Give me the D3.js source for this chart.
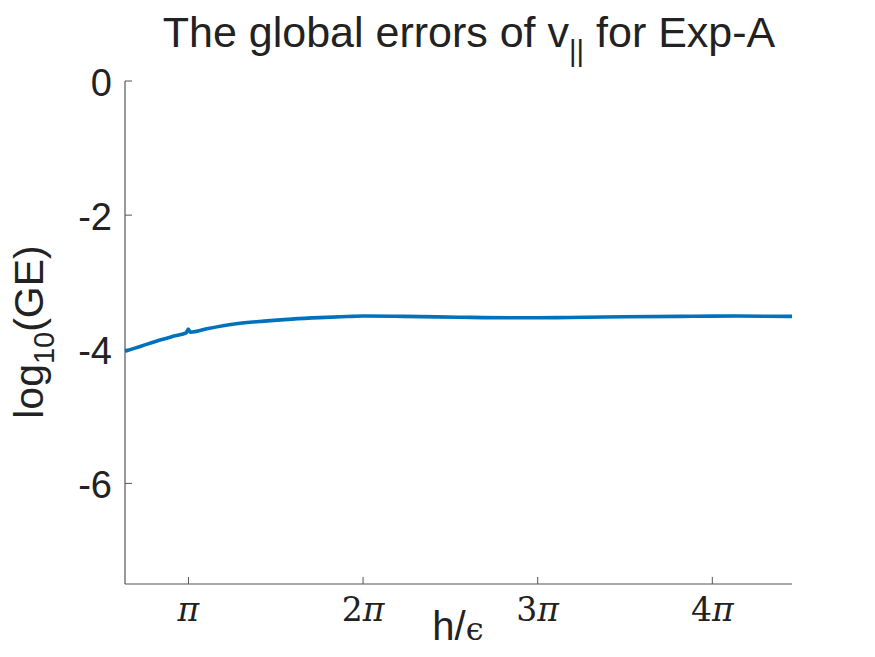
<!DOCTYPE html>
<meta charset="utf-8">
<style>
body { margin: 0; background: #fff; }
text { font-family: 'Liberation Sans', Arial, sans-serif; fill: #222; }
.tex { font-family: 'DejaVu Serif', 'Liberation Serif', serif; }
</style>
<body>
<script src="https://d3js.org/d3.v7.min.js"></script>
<script>
	// curve samples
	var xs = [2, 2.3, 2.6, 2.9, 3.1, 3.14, 3.17, 3.5, 4, 4.5, 5, 5.5, 6, 6.28, 7, 8, 9, 9.42, 10, 11, 12, 12.57, 13, 14];
	var ys = [-4.03, -3.95, -3.87, -3.80, -3.755, -3.70, -3.745, -3.69, -3.62, -3.58, -3.55, -3.528, -3.512, -3.505, -3.51, -3.522, -3.53, -3.53, -3.526, -3.516, -3.51, -3.506, -3.505, -3.51];

	var yTicks = [0, -2, -4, -6];
	var xTicks = [Math.PI, 2 * Math.PI, 3 * Math.PI, 4 * Math.PI];
	var xTickLabels = ["", "2", "3", "4"]; // coefficient before π

	var width = 875, height = 657;
	var plotLeft = 125, plotRight = 792, plotTop = 81, plotBottom = 584;
	var axisColor = "#555";

	var svg = d3.select("body").append("svg")
		.attr("width", width)
		.attr("height", height);

	var x = d3.scaleLinear().domain([2, 14]).range([plotLeft, plotRight]);
	var y = d3.scaleLinear().domain([-7.5, 0]).range([plotBottom, plotTop]);

	// axes lines
	svg.append("line").attr("x1", plotLeft).attr("x2", plotLeft).attr("y1", plotTop).attr("y2", plotBottom)
		.style("stroke", axisColor).style("stroke-width", 1.2);
	svg.append("line").attr("x1", plotLeft).attr("x2", plotRight).attr("y1", plotBottom).attr("y2", plotBottom)
		.style("stroke", axisColor).style("stroke-width", 1.2);

	// y ticks
	for (var i = 0; i < yTicks.length; i++) {
		svg.append("line")
			.attr("x1", plotLeft).attr("x2", plotLeft + 7)
			.attr("y1", y(yTicks[i])).attr("y2", y(yTicks[i]))
			.style("stroke", axisColor);
		svg.append("text")
			.attr("x", 112)
			.attr("y", y(yTicks[i]) + 15)
			.attr("text-anchor", "end")
			.style("font-size", "38px")
			.text(yTicks[i] == 0 ? "0" : "-" + Math.abs(yTicks[i]));
	}

	// x ticks
	for (var i = 0; i < xTicks.length; i++) {
		svg.append("line")
			.attr("x1", x(xTicks[i])).attr("x2", x(xTicks[i]))
			.attr("y1", plotBottom).attr("y2", plotBottom - 7)
			.style("stroke", axisColor);
		var t = svg.append("text")
			.attr("class", "tex")
			.attr("x", x(xTicks[i]))
			.attr("y", 621)
			.attr("text-anchor", "middle")
			.style("font-size", "33px");
		t.append("tspan").text(xTickLabels[i]);
		t.append("tspan").style("font-style", "italic").text("π");
	}

	// the curve
	var pts = xs.map(function(d, i) { return [d, ys[i]]; });
	svg.append("path")
		.datum(pts)
		.attr("d", d3.line().x(function(d) { return x(d[0]); }).y(function(d) { return y(d[1]); }).curve(d3.curveMonotoneX))
		.style("fill", "none")
		.style("stroke", "#0072BD")
		.style("stroke-width", 3.6);

	// title
	var title = svg.append("text")
		.attr("x", 469)
		.attr("y", 47)
		.attr("text-anchor", "middle")
		.style("font-size", "43px");
	title.append("tspan").text("The global errors of v");
	title.append("tspan").attr("dy", 14).style("font-size", "29px").text("||");
	title.append("tspan").attr("dy", -14).text(" for Exp-A");

	// x label
	var xl = svg.append("text")
		.attr("x", 458)
		.attr("y", 640)
		.attr("text-anchor", "middle")
		.style("font-size", "40px");
	xl.append("tspan").text("h/");
	xl.append("tspan").attr("class", "tex").style("font-size", "32px").text("ϵ");

	// y label
	var yl = svg.append("text")
		.attr("transform", "translate(43,332) rotate(-90)")
		.attr("text-anchor", "middle")
		.style("font-size", "41px");
	yl.append("tspan").text("log");
	yl.append("tspan").attr("dy", 11).style("font-size", "29px").text("10");
	yl.append("tspan").attr("dy", -11).text("(GE)");
</script>
</body>
